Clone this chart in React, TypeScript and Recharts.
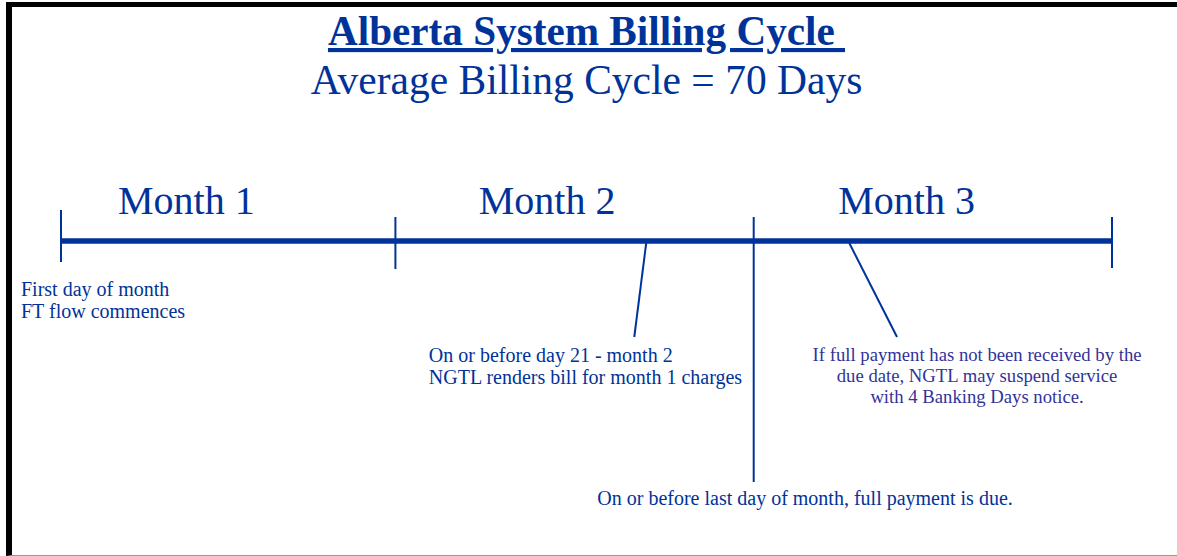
import { ComposedChart, ReferenceLine, Scatter, XAxis, YAxis } from "recharts";

const BLUE = "#003399";
const NOTE_PURPLE = "#333399";
const SERIF = "'Liberation Serif', 'Times New Roman', serif";

// timeline in days; level = distance below the timeline (negative is above)
const monthEdges = [0, 28, 58, 88];
const edgeTop = [-31, -24, -24, -24];
const edgeBottom = [21, 28, 241, 27];

const monthNames = ["Month 1", "Month 2", "Month 3"];
const monthMid = [10.5, 40.7, 70.8];
const monthLevel = -27;

const leaderStart = [49, 66];
const leaderEnd = [48, 70];
const leaderTopLevel = 2;
const leaderBottomLevel = 96;

const titleText = "Alberta System Billing Cycle ";
const subtitleText = "Average Billing Cycle = 70 Days";
const titleDay = 44;
const titleLevel = -196;
const subtitleLevel = -147;

const startNote = ["First day of month", "FT flow commences"];
const billNote = ["On or before day 21 - month 2", "NGTL renders bill for month 1 charges"];
const suspendNote = [
  "If full payment has not been received by the",
  "due date, NGTL may suspend service",
  "with 4 Banking Days notice.",
];
const dueNote = ["On or before last day of month, full payment is due."];

const noteDay = [0, 30.8, 76.7, 62.3];
const noteLevel = [55, 121, 120, 264];

type TextStyle = {
  size: number;
  anchor: "start" | "middle" | "end";
  color: string;
  lineHeight?: number;
  dx?: number;
  bold?: boolean;
  underline?: boolean;
};

const textShape = (s: TextStyle) => (p: any) => {
  const lines: string[] = p.payload.lines;
  const x = p.cx + (s.dx ?? 0);
  return (
    <text
      x={x}
      y={p.cy}
      fill={s.color}
      fontSize={s.size}
      fontFamily={SERIF}
      fontWeight={s.bold ? 700 : 400}
      textAnchor={s.anchor}
      style={{
        whiteSpace: "pre",
        textDecoration: s.underline ? "underline" : "none",
        textDecorationThickness: s.underline ? 4 : undefined,
        textUnderlineOffset: s.underline ? 5 : undefined,
      }}
    >
      {lines.map((l, i) => (
        <tspan key={i} x={x} dy={i === 0 ? 0 : s.lineHeight}>
          {l}
        </tspan>
      ))}
    </text>
  );
};

export default function App() {
  const months = monthNames.map((n, i) => ({ day: monthMid[i], level: monthLevel, lines: [n] }));
  const notes = [startNote, billNote, suspendNote, dueNote].map((lines, i) => ({
    day: noteDay[i],
    level: noteLevel[i],
    lines,
  }));

  return (
    <div style={{ position: "absolute", left: 0, top: 0, width: 1177, height: 556, background: "#fff" }}>
      <div
        style={{
          position: "absolute",
          left: 6,
          top: 2,
          width: 1171,
          height: 554,
          boxSizing: "border-box",
          borderTop: "5px solid #000",
          borderLeft: "6px solid #000",
          borderBottom: "1px solid #999",
        }}
      />
      <div style={{ position: "absolute", left: 0, top: 0 }}>
        <ComposedChart width={1177} height={556} margin={{ top: 0, right: 65, bottom: 0, left: 61 }}>
          <XAxis type="number" dataKey="day" domain={[0, 88]} hide />
          <YAxis type="number" dataKey="level" domain={[-241, 315]} reversed hide />

          <ReferenceLine
            segment={[
              { x: monthEdges[0], y: 0 },
              { x: monthEdges[monthEdges.length - 1], y: 0 },
            ]}
            stroke={BLUE}
            strokeWidth={5.5}
            ifOverflow="visible"
          />
          {monthEdges.map((d, i) => (
            <ReferenceLine
              key={`edge-${i}`}
              segment={[
                { x: d, y: edgeTop[i] },
                { x: d, y: edgeBottom[i] },
              ]}
              stroke={BLUE}
              strokeWidth={2}
              ifOverflow="visible"
            />
          ))}
          {leaderStart.map((d, i) => (
            <ReferenceLine
              key={`lead-${i}`}
              segment={[
                { x: d, y: leaderTopLevel },
                { x: leaderEnd[i], y: leaderBottomLevel },
              ]}
              stroke={BLUE}
              strokeWidth={2}
              ifOverflow="visible"
            />
          ))}

          <Scatter
            data={[{ day: titleDay, level: titleLevel, lines: [titleText] }]}
            shape={textShape({ size: 41.2, anchor: "middle", color: BLUE, bold: true, underline: true })}
            isAnimationActive={false}
          />
          <Scatter
            data={[{ day: titleDay, level: subtitleLevel, lines: [subtitleText] }]}
            shape={textShape({ size: 41.5, anchor: "middle", color: BLUE })}
            isAnimationActive={false}
          />
          <Scatter
            data={months}
            shape={textShape({ size: 40, anchor: "middle", color: BLUE })}
            isAnimationActive={false}
          />
          <Scatter
            data={[notes[0]]}
            shape={textShape({ size: 20, anchor: "start", color: BLUE, lineHeight: 22, dx: -40 })}
            isAnimationActive={false}
          />
          <Scatter
            data={[notes[1]]}
            shape={textShape({ size: 20, anchor: "start", color: BLUE, lineHeight: 22 })}
            isAnimationActive={false}
          />
          <Scatter
            data={[notes[2]]}
            shape={textShape({ size: 18.7, anchor: "middle", color: NOTE_PURPLE, lineHeight: 21 })}
            isAnimationActive={false}
          />
          <Scatter
            data={[notes[3]]}
            shape={textShape({ size: 20, anchor: "middle", color: BLUE })}
            isAnimationActive={false}
          />
        </ComposedChart>
      </div>
    </div>
  );
}
